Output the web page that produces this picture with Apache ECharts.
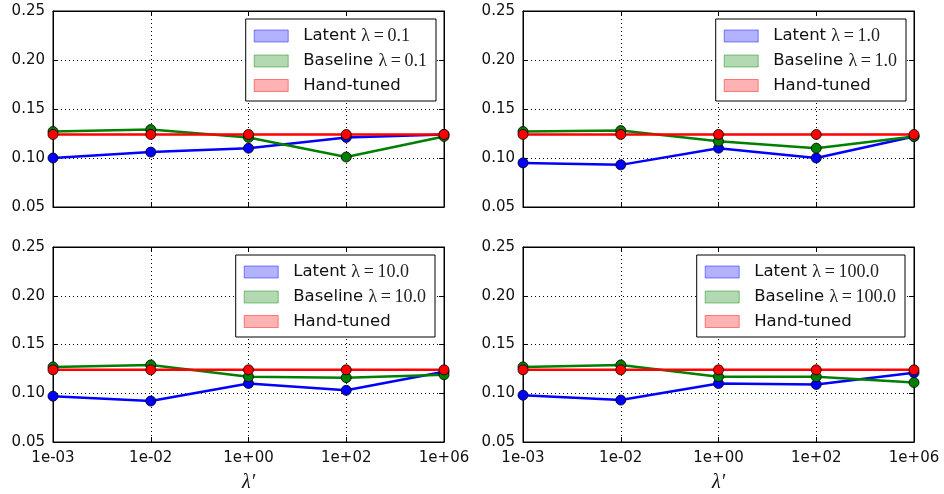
<!DOCTYPE html>
<html>
<head>
<meta charset="utf-8">
<script src="https://cdn.jsdelivr.net/npm/echarts@6/dist/echarts.min.js"></script>
<style>
html, body { margin: 0; padding: 0; background: #fff; }
#chart { width: 944px; height: 494px; }
</style>
</head>
<body>
<div id="chart"></div>
<script>
// x ticks (equally spaced lambda' values)
var xLabels = ['1e-03', '1e-02', '1e+00', '1e+02', '1e+06'];
var lambdaNames = ['0.1', '1.0', '10.0', '100.0'];

var latent_0_1   = [0.100, 0.106, 0.110, 0.121, 0.124];
var baseline_0_1 = [0.127, 0.129, 0.121, 0.101, 0.122];

var latent_1_0   = [0.095, 0.093, 0.110, 0.100, 0.122];
var baseline_1_0 = [0.127, 0.128, 0.117, 0.110, 0.122];

var latent_10_0   = [0.097, 0.092, 0.110, 0.103, 0.122];
var baseline_10_0 = [0.127, 0.129, 0.117, 0.116, 0.119];

var latent_100_0   = [0.098, 0.093, 0.110, 0.109, 0.121];
var baseline_100_0 = [0.127, 0.129, 0.117, 0.117, 0.111];

var handTuned = [0.124, 0.124, 0.124, 0.124, 0.124];

var yTicks = [0.05, 0.10, 0.15, 0.20, 0.25];

var panels = [
  {lam: lambdaNames[0], latent: latent_0_1, baseline: baseline_0_1},
  {lam: lambdaNames[1], latent: latent_1_0, baseline: baseline_1_0},
  {lam: lambdaNames[2], latent: latent_10_0, baseline: baseline_10_0},
  {lam: lambdaNames[3], latent: latent_100_0, baseline: baseline_100_0}
];

// plot boxes [left, top, width, height] and legend anchors [right, top]
var boxes = [[53, 11, 391, 196], [523, 11, 391, 196], [53, 247, 391, 195], [523, 247, 391, 195]];
var legendPos = [[508, 19], [38, 19], [509, 255], [39, 255]];

var SANS = '"DejaVu Sans", sans-serif';
var SERIF = '"Liberation Serif", "DejaVu Serif", serif';

var options = {};
options.animation = false;
options.backgroundColor = '#fff';
options.grid = [];
options.xAxis = [];
options.yAxis = [];
options.legend = [];
options.series = [];

var dotted = {show: true, lineStyle: {color: '#000', width: 1, type: [1, 3]}};
var tick = {show: true, inside: true, length: 5, lineStyle: {color: '#000', width: 1}};
var frameLine = {show: true, onZero: false, lineStyle: {color: '#000', width: 1}};

for (var i = 0; i < panels.length; i++) {
  var p = panels[i];
  var b = boxes[i];
  var isBottom = i >= 2;

  options.grid.push({
    left: b[0], top: b[1], width: b[2], height: b[3],
    show: true, borderColor: '#000', borderWidth: 1, backgroundColor: 'transparent'
  });

  // bottom x axis
  options.xAxis.push({
    gridIndex: i, type: 'category', data: xLabels, boundaryGap: false, position: 'bottom',
    axisLine: frameLine, axisTick: tick,
    axisLabel: {show: isBottom, color: '#111', fontSize: 15, fontFamily: SANS, margin: 9},
    splitLine: dotted,
    name: isBottom ? 'λ′' : '', nameLocation: 'middle', nameGap: 31,
    nameTextStyle: {color: '#111', fontFamily: SERIF, fontStyle: 'italic', fontSize: 20}
  });
  // top x axis (ticks only)
  options.xAxis.push({
    gridIndex: i, type: 'category', data: xLabels, boundaryGap: false, position: 'top',
    axisLine: frameLine, axisTick: tick, axisLabel: {show: false}, splitLine: {show: false}
  });

  // left y axis
  options.yAxis.push({
    gridIndex: i, type: 'value', min: yTicks[0], max: yTicks[yTicks.length - 1], interval: 0.05,
    position: 'left', axisLine: frameLine, axisTick: tick,
    axisLabel: {color: '#111', fontSize: 15, fontFamily: SANS, margin: 8,
      formatter: function (v) { return v.toFixed(2); }},
    splitLine: dotted
  });
  // right y axis (ticks only)
  options.yAxis.push({
    gridIndex: i, type: 'value', min: yTicks[0], max: yTicks[yTicks.length - 1], interval: 0.05,
    position: 'right', axisLine: frameLine, axisTick: tick,
    axisLabel: {show: false}, splitLine: {show: false}
  });

  var latentName = 'Latent λ=' + p.lam;
  var baseName = 'Baseline λ=' + p.lam;

  options.legend.push({
    orient: 'vertical', right: legendPos[i][0], top: legendPos[i][1],
    icon: 'rect', itemWidth: 34, itemHeight: 12, itemGap: 7,
    padding: [8, 9, 7, 8],
    backgroundColor: '#fff', borderColor: '#000', borderWidth: 1, borderRadius: 0,
    selectedMode: false,
    data: [
      {name: latentName, itemStyle: {color: 'rgba(0,0,255,0.3)', borderColor: 'rgba(0,0,255,0.45)', borderWidth: 1}},
      {name: baseName, itemStyle: {color: 'rgba(0,128,0,0.3)', borderColor: 'rgba(0,128,0,0.45)', borderWidth: 1}},
      {name: 'Hand-tuned', itemStyle: {color: 'rgba(255,0,0,0.3)', borderColor: 'rgba(255,0,0,0.45)', borderWidth: 1}}
    ],
    formatter: function (name) {
      var k = name.indexOf(' λ=');
      if (k < 0) return '{s|' + name + '}';
      return '{s|' + name.substring(0, k) + ' }{m|λ\u2009=\u2009' + name.substring(k + 3) + '}';
    },
    textStyle: {
      color: '#111',
      rich: {
        s: {fontFamily: SANS, fontSize: 16.5, color: '#111', padding: [0, 0, 0, 10]},
        m: {fontFamily: SERIF, fontSize: 18, color: '#222'}
      }
    }
  });

  var lines = [
    {name: latentName, data: p.latent, color: '#0000ff'},
    {name: baseName, data: p.baseline, color: '#008000'},
    {name: 'Hand-tuned', data: handTuned, color: '#ff0000'}
  ];
  for (var j = 0; j < lines.length; j++) {
    options.series.push({
      name: lines[j].name, type: 'line',
      xAxisIndex: 2 * i, yAxisIndex: 2 * i,
      data: lines[j].data,
      symbol: 'circle', symbolSize: 10,
      lineStyle: {color: lines[j].color, width: 2.5},
      itemStyle: {color: lines[j].color, borderColor: '#000', borderWidth: 0.8},
      z: 2 + j
    });
  }
}

var myChart = echarts.init(document.getElementById('chart'));
myChart.setOption(options);
</script>
</body>
</html>
